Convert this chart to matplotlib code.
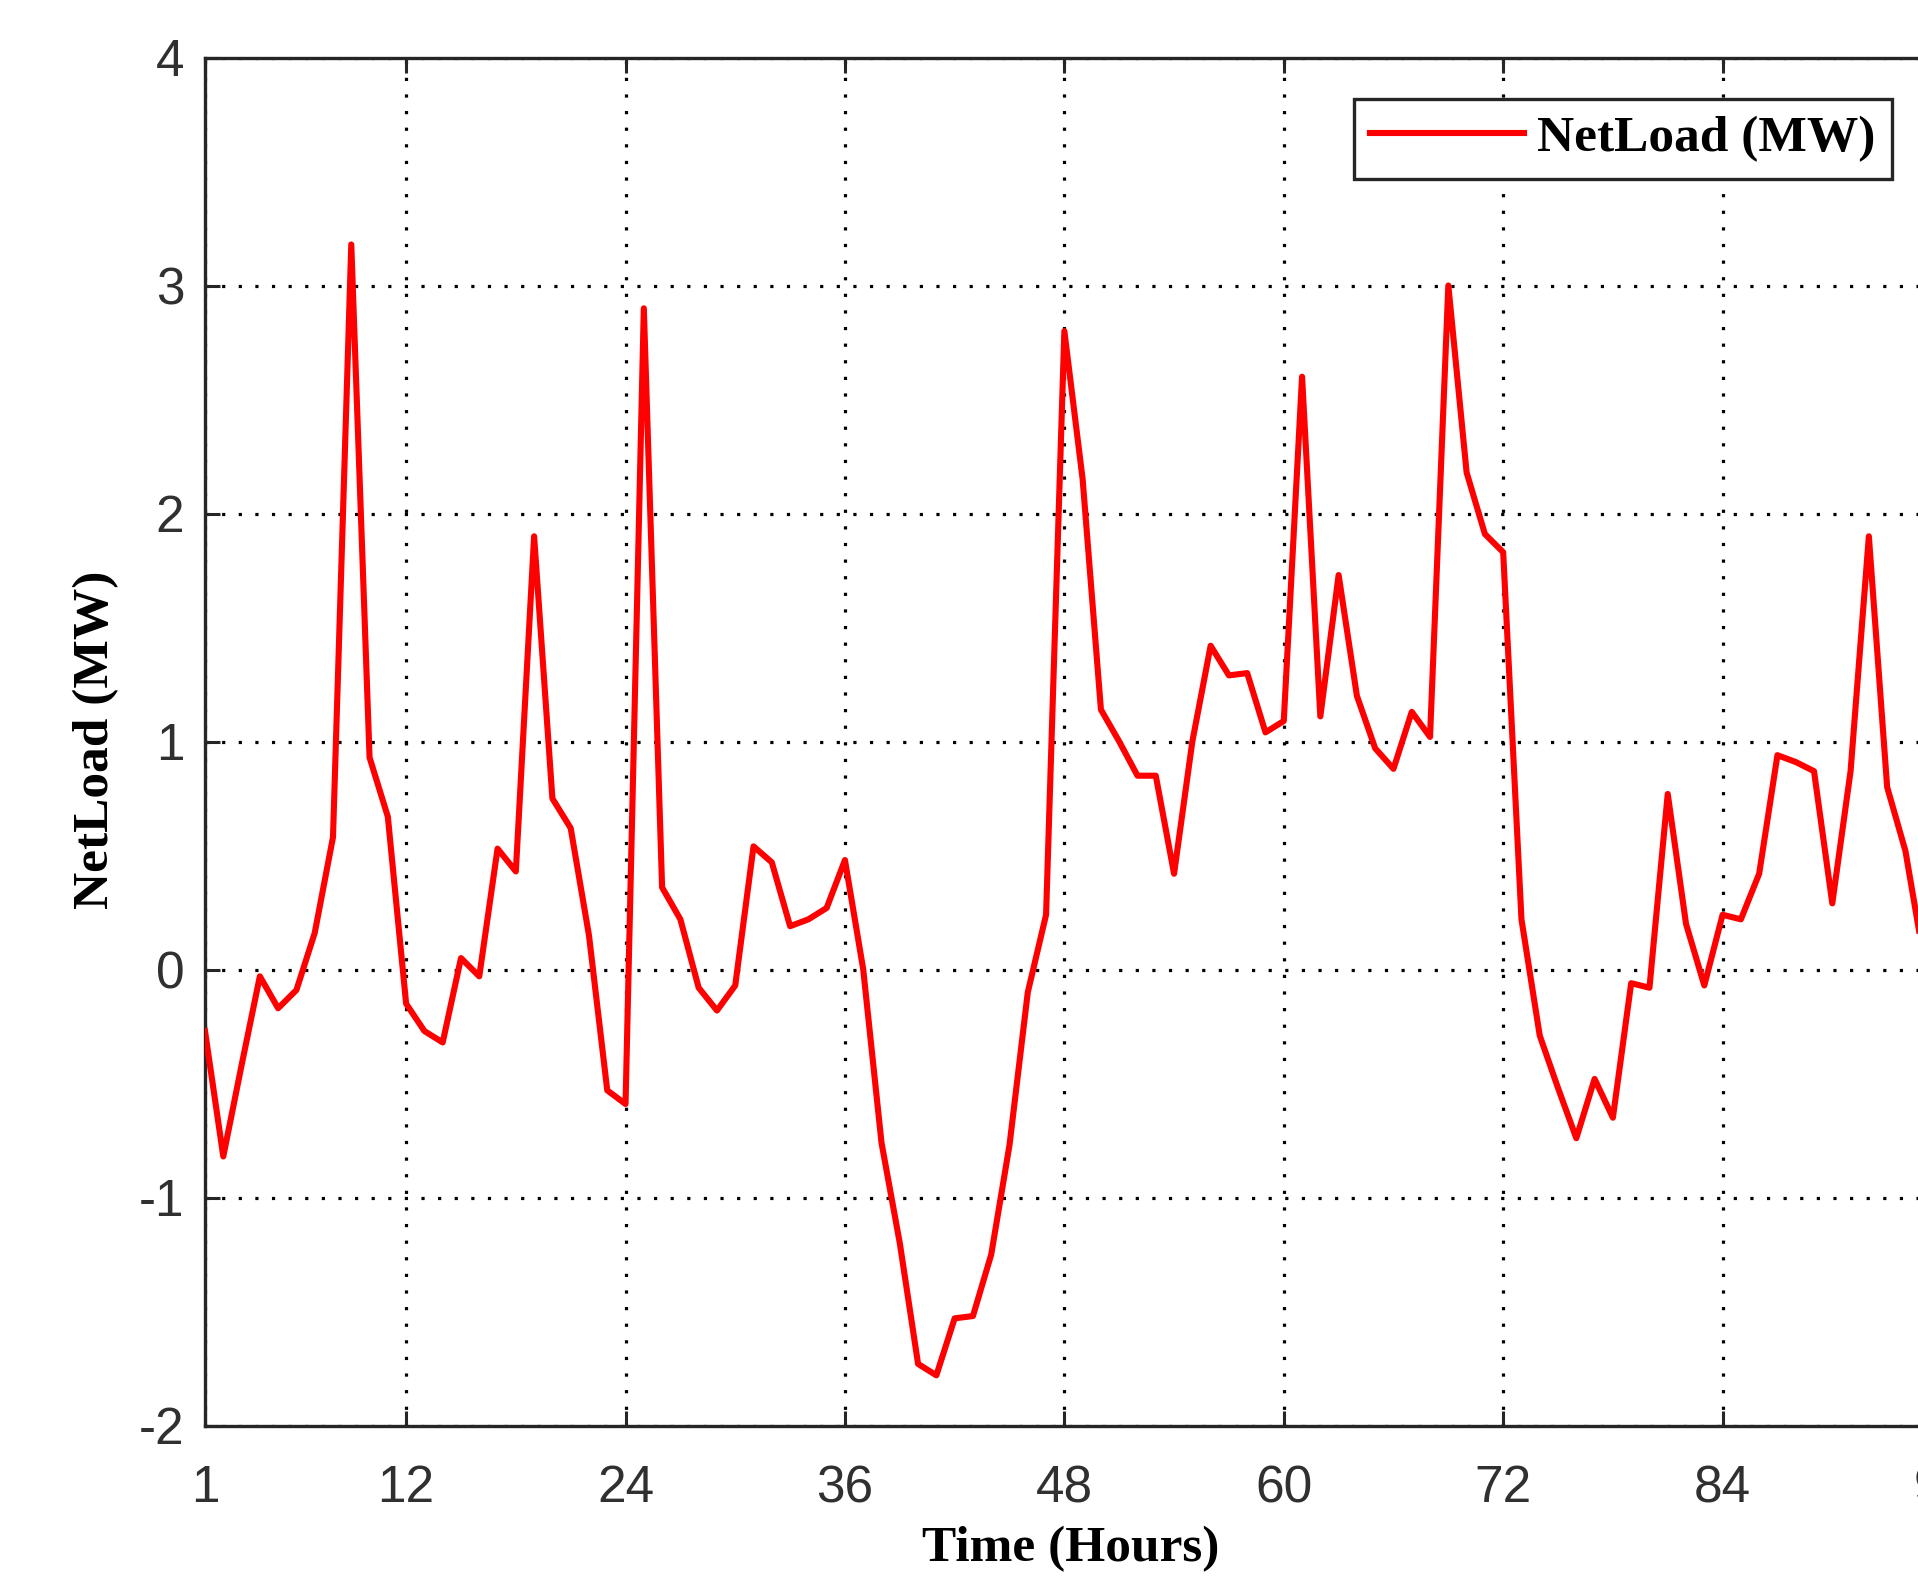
import matplotlib
matplotlib.use("Agg")
import matplotlib.pyplot as plt
from matplotlib.font_manager import FontProperties

plt.rcParams["axes.unicode_minus"] = False

hours = list(range(1, 97))
netload = [
    -0.27, -0.82, -0.42, -0.03, -0.17, -0.09, 0.16, 0.58, 3.18, 0.93,
    0.67, -0.15, -0.27, -0.32, 0.05, -0.03, 0.53, 0.43, 1.90, 0.75,
    0.62, 0.15, -0.53, -0.59, 2.90, 0.36, 0.22, -0.08, -0.18, -0.07,
    0.54, 0.47, 0.19, 0.22, 0.27, 0.48, 0.00, -0.76, -1.20, -1.73,
    -1.78, -1.53, -1.52, -1.25, -0.77, -0.10, 0.24, 2.80, 2.15, 1.14,
    1.00, 0.85, 0.85, 0.42, 1.00, 1.42, 1.29, 1.30, 1.04, 1.09,
    2.60, 1.11, 1.73, 1.20, 0.97, 0.88, 1.13, 1.02, 3.00, 2.18,
    1.91, 1.83, 0.22, -0.29, -0.52, -0.74, -0.48, -0.65, -0.06, -0.08,
    0.77, 0.20, -0.07, 0.24, 0.22, 0.42, 0.94, 0.91, 0.87, 0.29,
    0.87, 1.90, 0.80, 0.52, 0.05, -0.15,
]
xticks = [1, 12, 24, 36, 48, 60, 72, 84, 96]
yticks = [-2, -1, 0, 1, 2, 3, 4]
series_label = "NetLoad (MW)"
xlabel = "Time (Hours)"
ylabel = "NetLoad (MW)"

W, H = 1918, 1585
fig = plt.figure(figsize=(W / 100, H / 100), dpi=100)
ax = fig.add_axes([205 / W, (H - 1425.5) / H, 1737 / W, 1368 / H])

ax.plot(hours, netload, color="#ff0000", lw=4.4, label=series_label, zorder=3)

ax.set_xlim(1, 96)
ax.set_ylim(-2, 4)
ax.set_xticks(xticks)
ax.set_yticks(yticks)

tick_font = FontProperties(family="Liberation Sans", size=37)
for lab in ax.get_xticklabels() + ax.get_yticklabels():
    lab.set_fontproperties(tick_font)
    lab.set_color("#303030")

ax.tick_params(axis="both", direction="in", length=11, width=2.2,
               color="#262626", top=True, right=True)
ax.tick_params(axis="x", pad=28)
ax.tick_params(axis="y", pad=15)

for sp in ax.spines.values():
    sp.set_linewidth(2.4)
    sp.set_color("#262626")

ax.grid(True, color="black", linestyle=(0, (1, 4.2)), linewidth=2.3)
ax.set_axisbelow(True)

lab_font = FontProperties(family="Liberation Serif", weight="bold", size=37)
fig.text(1071 / W, 1 - 1549 / H, xlabel, fontproperties=lab_font,
         ha="center", va="center", color="black")
fig.text(96 / W, 1 - 740 / H, ylabel, fontproperties=lab_font,
         ha="center", va="center", rotation=90, color="black")

leg = ax.legend(loc="upper right", bbox_to_anchor=(1892 / W, 1 - 99 / H),
                bbox_transform=fig.transFigure, prop=lab_font,
                frameon=True, fancybox=False, framealpha=1,
                edgecolor="#262626", handlelength=3.0, handletextpad=0.25,
                borderpad=0.32, borderaxespad=0)
leg.get_frame().set_linewidth(2.4)

fig.savefig("out.png", dpi=100)
